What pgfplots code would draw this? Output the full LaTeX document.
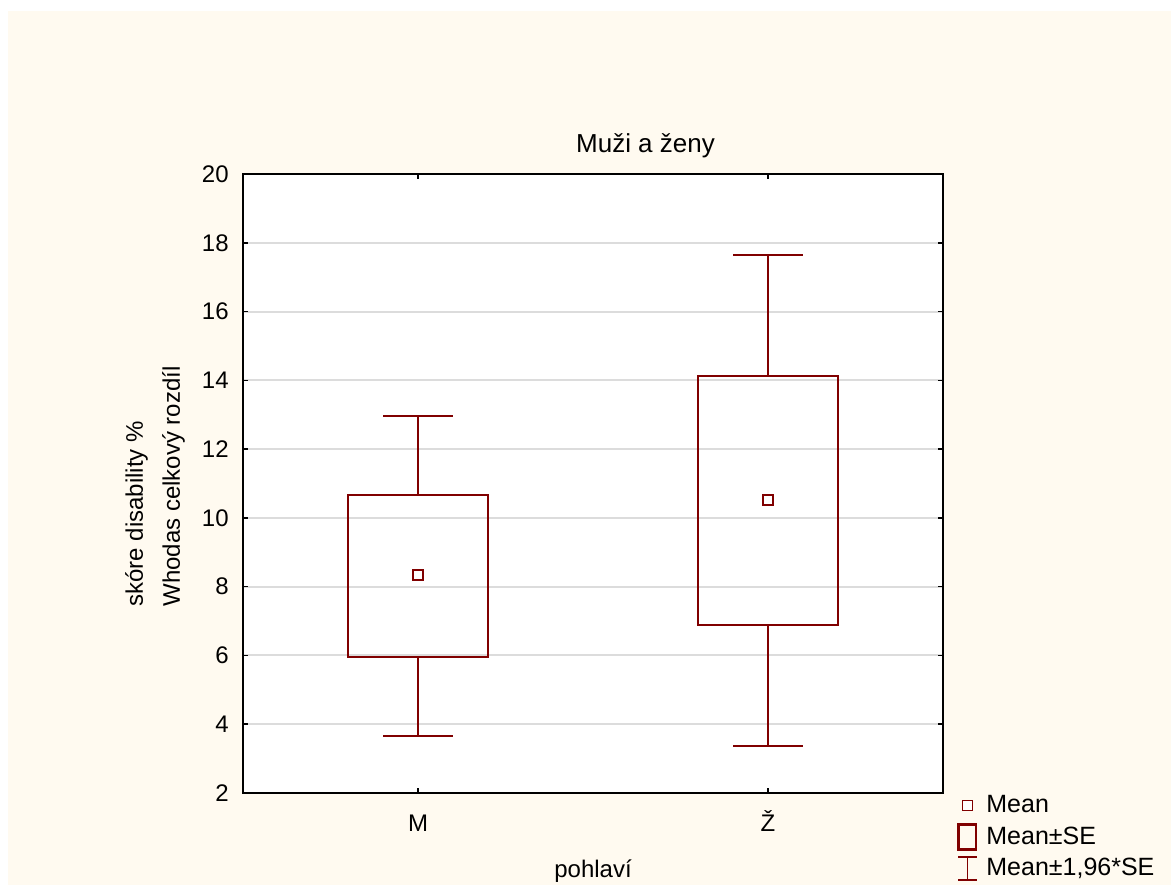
\documentclass[border=0pt]{standalone}
\usepackage{fontspec}
\setmainfont{Liberation Sans}
\usepackage{pgfplots}
\pgfplotsset{compat=1.18}
\definecolor{dred}{RGB}{128,0,0}
\definecolor{cream}{RGB}{255,250,240}
\definecolor{gridgray}{RGB}{220,220,220}
\begin{document}
\begin{tikzpicture}
\useasboundingbox (0,0) rectangle (585.5pt,442.5pt);
\fill[white] (0,0) rectangle (585.5pt,442.5pt);
\fill[cream] (4pt,0) rectangle (585.5pt,437pt);
\begin{axis}[
  at={(121.5pt,46pt)}, anchor=south west,
  scale only axis, width=350pt, height=309.5pt,
  axis background/.style={fill=white},
  xmin=-0.5, xmax=1.5, ymin=2, ymax=20,
  xtick={0,1}, xticklabels={M,Ž},
  ytick={2,4,...,20},
  tick align=inside, major tick length=2.5pt,
  tick style={black, line width=0.8pt},
  axis line style={black, line width=1pt},
  ymajorgrids, grid style={gridgray, line width=1pt},
  font=\fontsize{12}{14.4}\selectfont,
  /pgf/number format/assume math mode=true,
  yticklabel style={anchor=east, inner sep=0pt, xshift=-7pt},
  xticklabel style={anchor=base, inner sep=0pt, yshift=-19pt},
  title={Muži a ženy},
  title style={at={(axis description cs:0.575,1)}, anchor=base, inner sep=0pt, yshift=5pt,
    font=\fontsize{13}{15.6}\selectfont},
  xlabel={pohlaví},
  xlabel style={at={(axis description cs:0.5,0)}, anchor=base, inner sep=0pt, yshift=-42pt},
  ylabel={skóre disability \%\\[4pt]Whodas celkový rozdíl},
  ylabel style={at={(axis description cs:-0.1257,0.3005)}, anchor=west, align=left, inner sep=0pt},
  legend style={at={(axis description cs:1,0)}, anchor=north west, xshift=4pt, yshift=3pt,
    draw=none, fill=none, row sep=1.75pt, column sep=4.5pt, nodes={inner sep=0pt},
    font=\fontsize{12.5}{15}\selectfont},
  legend cell align=left,
]
\addlegendimage{legend image code/.code={\path[draw=none,fill=none] (0pt,-7pt) rectangle (10pt,7pt);
  \draw[dred, line width=0.85pt, fill=white] (2.5pt,-2.5pt) rectangle (7.5pt,2.5pt);}}
\addlegendentry{Mean}
\addlegendimage{legend image code/.code={\path[draw=none,fill=none] (0pt,-7pt) rectangle (10pt,7pt);
  \draw[dred, line width=1.3pt, fill=none] (0.65pt,-6.3pt) rectangle (9.35pt,6.3pt);}}
\addlegendentry{Mean±SE}
\addlegendimage{legend image code/.code={\path[draw=none,fill=none] (0pt,-7pt) rectangle (10pt,7pt);
  \draw[dred, line width=0.75pt, fill=none] (0.4pt,-5.8pt) -- (9.6pt,-5.8pt) (5pt,-5.8pt) -- (5pt,5.8pt) (0.4pt,5.8pt) -- (9.6pt,5.8pt);}}
\addlegendentry{Mean±1,96*SE}
% M: whiskers (Mean±1.96*SE)
\addplot[dred, line width=0.75pt, mark=none] coordinates {(0,10.66) (0,12.96)};
\addplot[dred, line width=0.75pt, mark=none] coordinates {(-0.1,12.96) (0.1,12.96)};
\addplot[dred, line width=0.75pt, mark=none] coordinates {(0,5.96) (0,3.66)};
\addplot[dred, line width=0.75pt, mark=none] coordinates {(-0.1,3.66) (0.1,3.66)};
% M: box (Mean±SE)
\addplot[dred, line width=1.3pt, mark=none, line join=miter] coordinates {(-0.2,5.96) (0.2,5.96) (0.2,10.66) (-0.2,10.66)} -- cycle;
% Ž: whiskers
\addplot[dred, line width=0.75pt, mark=none] coordinates {(1,14.13) (1,17.64)};
\addplot[dred, line width=0.75pt, mark=none] coordinates {(0.9,17.64) (1.1,17.64)};
\addplot[dred, line width=0.75pt, mark=none] coordinates {(1,6.89) (1,3.37)};
\addplot[dred, line width=0.75pt, mark=none] coordinates {(0.9,3.37) (1.1,3.37)};
% Ž: box
\addplot[dred, line width=1.3pt, mark=none, line join=miter] coordinates {(0.8,6.89) (1.2,6.89) (1.2,14.13) (0.8,14.13)} -- cycle;
% Means
\addplot[only marks, mark=square*, mark size=2.5pt,
  mark options={draw=dred, fill=white, line width=0.85pt}]
  coordinates {(0,8.33) (1,10.53)};
\end{axis}
\end{tikzpicture}
\end{document}
